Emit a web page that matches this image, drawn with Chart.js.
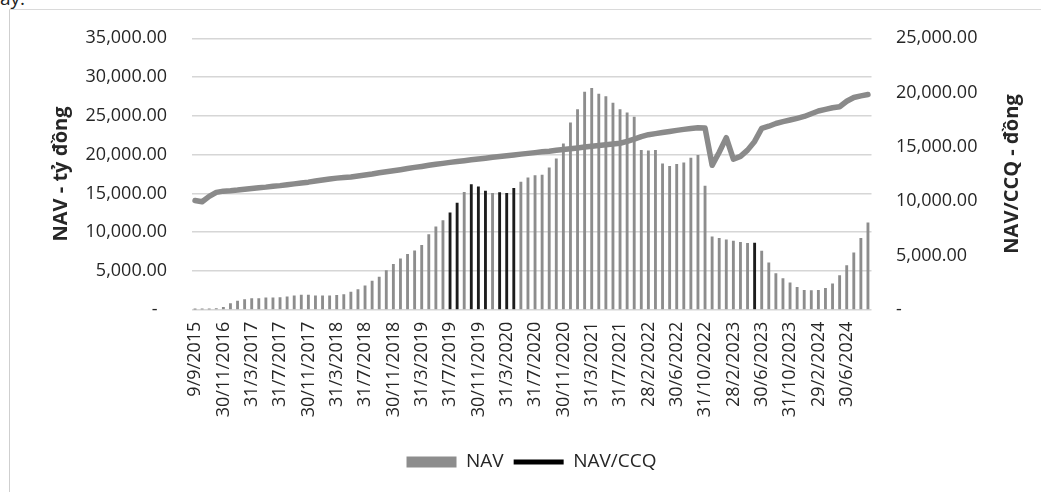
<!DOCTYPE html>
<html><head><meta charset="utf-8">
<script src="https://cdn.jsdelivr.net/npm/chart.js@4.4.1/dist/chart.umd.min.js"></script>
<style>
html,body{margin:0;padding:0;background:#fff;overflow:hidden}
#wrap{position:relative;width:1041px;height:492px;background:#fff}
canvas{position:absolute;left:0;top:0}
#frameL{position:absolute;left:9px;top:9px;width:1px;height:483px;background:#cfcfcf}
#frameT{position:absolute;left:9px;top:9px;width:1032px;height:1px;background:#dadada}
#cut{position:absolute;left:0;top:-15px;font:19px 'Open Sans',sans-serif;color:#222}
</style></head><body>
<div id="wrap"><div id="cut">ay.</div><div id="frameL"></div><div id="frameT"></div>
<canvas id="c" width="1041" height="492"></canvas></div>
<script>
const categories = [
 '9/9/2015','31/8/2016','30/9/2016','31/10/2016','30/11/2016','31/12/2016',
 '31/1/2017','28/2/2017','31/3/2017','30/4/2017','31/5/2017','30/6/2017','31/7/2017','31/8/2017','30/9/2017','31/10/2017','30/11/2017','31/12/2017',
 '31/1/2018','28/2/2018','31/3/2018','30/4/2018','31/5/2018','30/6/2018','31/7/2018','31/8/2018','30/9/2018','31/10/2018','30/11/2018','31/12/2018',
 '31/1/2019','28/2/2019','31/3/2019','30/4/2019','31/5/2019','30/6/2019','31/7/2019','31/8/2019','30/9/2019','31/10/2019','30/11/2019','31/12/2019',
 '31/1/2020','29/2/2020','31/3/2020','30/4/2020','31/5/2020','30/6/2020','31/7/2020','31/8/2020','30/9/2020','31/10/2020','30/11/2020','31/12/2020',
 '31/1/2021','28/2/2021','31/3/2021','30/4/2021','31/5/2021','30/6/2021','31/7/2021','31/8/2021','31/10/2021','31/12/2021',
 '28/2/2022','31/3/2022','30/4/2022','31/5/2022','30/6/2022','31/7/2022','31/8/2022','30/9/2022','31/10/2022','30/11/2022','31/12/2022',
 '31/1/2023','28/2/2023','31/3/2023','30/4/2023','31/5/2023','30/6/2023','31/7/2023','31/8/2023','30/9/2023','31/10/2023','30/11/2023','31/12/2023',
 '31/1/2024','29/2/2024','31/3/2024','30/4/2024','31/5/2024','30/6/2024','31/7/2024','31/8/2024','30/9/2024'
];
const navValues = [
 40,60,80,160,290,780,1100,1320,1420,1450,1520,1540,1570,1660,1790,1870,1870,1800,
 1790,1780,1850,1950,2280,2600,3080,3700,4200,5050,5850,6550,7150,7600,8300,9700,10700,11500,
 12500,13750,15150,16150,15850,15300,15000,15100,15000,15650,16450,17000,17300,17350,18300,19450,21400,24100,
 25800,28050,28550,27800,27500,26650,25800,25400,24850,20550,
 20500,20550,18800,18500,18750,18950,19550,19900,15950,9400,9200,
 9000,8850,8700,8550,8600,7550,6050,4650,4000,3450,2900,2500,
 2450,2500,2750,3350,4400,5700,7350,9200,11200
];
const navPerUnitValues = [
 10060,9940,10440,10810,10920,10960,11020,11100,11170,11230,11290,11370,11430,11510,11590,11680,11750,11850,
 11950,12040,12120,12180,12230,12320,12410,12500,12610,12700,12800,12900,13000,13110,13200,13300,13400,13480,
 13570,13650,13730,13810,13880,13960,14050,14120,14190,14260,14330,14400,14470,14540,14600,14680,14750,14830,
 14900,14980,15050,15120,15190,15260,15330,15500,15720,15950,
 16120,16220,16320,16420,16520,16610,16700,16760,16740,13300,14500,
 15850,13870,14120,14700,15500,16700,16900,17150,17320,17470,17630,17800,
 18050,18300,18450,18600,18700,19200,19550,19700,19820
];
const leftTickValues = [0,5000,10000,15000,20000,25000,30000,35000];
const rightTickValues = [0,5000,10000,15000,20000,25000];
const seriesNames = ['NAV','NAV/CCQ'];
const axisTitles = ['NAV - tỷ đồng','NAV/CCQ - đồng'];

const darkBarIdx = [36,37,39,40,41,43,44,45,79];
const barColors = navValues.map((v,i)=> darkBarIdx.includes(i) ? '#1c1c1c' : '#8d8d8d');
const FONT = "'Open Sans', sans-serif";
const TXT = '#262626';
const fmt = v => v === 0 ? '-  ' : v.toLocaleString('en-US',{minimumFractionDigits:2,maximumFractionDigits:2});
const fmtR = v => v === 0 ? '-' : v.toLocaleString('en-US',{minimumFractionDigits:2,maximumFractionDigits:2});

const titlePlugin = {
  id:'titles',
  afterDraw(chart){
    const ctx = chart.ctx;
    ctx.save();
    ctx.fillStyle = TXT;
    ctx.font = "bold 20px " + FONT;
    ctx.textAlign = 'center';
    ctx.textBaseline = 'middle';
    ctx.translate(61,174); ctx.rotate(-Math.PI/2); ctx.fillText(axisTitles[0],0,0);
    ctx.restore();
    ctx.save();
    ctx.fillStyle = TXT;
    ctx.font = "bold 20px " + FONT;
    ctx.textAlign = 'center';
    ctx.textBaseline = 'middle';
    ctx.translate(1012,174); ctx.rotate(-Math.PI/2); ctx.fillText(axisTitles[1],0,0);
    ctx.restore();
  }
};

new Chart(document.getElementById('c'), {
  type:'bar',
  data:{
    labels: categories,
    datasets:[
      {type:'bar', label:seriesNames[0], data:navValues, backgroundColor:barColors, barThickness:2.2, yAxisID:'y', order:2},
      {type:'line', label:seriesNames[1], data:navPerUnitValues, borderColor:'#8a8a8a', borderWidth:5.5, pointRadius:0, tension:0, yAxisID:'y2', order:1, borderCapStyle:'round', borderJoinStyle:'round'}
    ]
  },
  options:{
    responsive:false, animation:false, devicePixelRatio:1,
    layout:{padding:{top:38.3,bottom:10.5,left:0,right:0}},
    plugins:{
      tooltip:{enabled:false},
      legend:{
        position:'bottom', fullSize:false,
        labels:{
          usePointStyle:true, pointStyleWidth:50, boxHeight:11, padding:10,
          color:TXT, font:{family:FONT,size:19},
          generateLabels(){
            return [
              {text:seriesNames[0], fillStyle:'#8d8d8d', strokeStyle:'#8d8d8d', lineWidth:0, pointStyle:'rect', datasetIndex:0, fontColor:TXT},
              {text:seriesNames[1], fillStyle:'#000', strokeStyle:'#000', lineWidth:5, pointStyle:'line', datasetIndex:1, fontColor:TXT}
            ];
          }
        }
      }
    },
    scales:{
      x:{
        type:'category', offset:true,
        grid:{display:false, drawTicks:false}, border:{display:false},
        ticks:{autoSkip:false, minRotation:90, maxRotation:90, padding:12, color:TXT, font:{family:FONT,size:18},
          callback:(v,i)=> i%4===0 ? categories[i] : ''},
        afterFit:s=>{ s.height = 132.8; }
      },
      y:{
        position:'left', min:0, max:35000,
        afterBuildTicks:s=>{ s.ticks = leftTickValues.map(v=>({value:v})); },
        grid:{color:'#d6d6d6', lineWidth:1.6, drawTicks:false}, border:{display:false},
        ticks:{padding:24.5, color:TXT, font:{family:FONT,size:18}, callback:v=>fmt(v)},
        afterFit:s=>{ s.width = 191.5; }
      },
      y2:{
        position:'right', min:0, max:25000,
        afterBuildTicks:s=>{ s.ticks = rightTickValues.map(v=>({value:v})); },
        grid:{display:false, drawTicks:false}, border:{display:false},
        ticks:{padding:24.5, color:TXT, font:{family:FONT,size:18}, callback:v=>fmtR(v)},
        afterFit:s=>{ s.width = 169.5; }
      }
    }
  },
  plugins:[titlePlugin]
});
</script>
</body></html>
